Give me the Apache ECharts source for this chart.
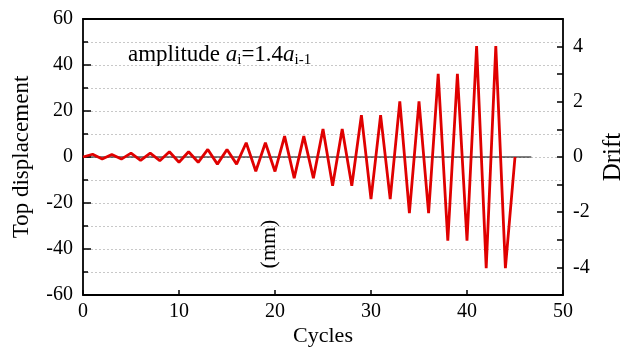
<!DOCTYPE html>
<html>
<head>
<meta charset="utf-8">
<script src="https://cdn.jsdelivr.net/npm/echarts@6/dist/echarts.min.js"></script>
<style>
  html, body { margin: 0; padding: 0; background: #fff; }
  #chart { width: 621px; height: 347px; }
</style>
</head>
<body>
<div id="chart"></div>
<script>
// cycle number and top displacement (mm)
const cycles = [0, 1, 2, 3, 4, 5, 6, 7, 8, 9, 10, 11, 12, 13, 14, 15, 16, 17, 18, 19, 20, 21, 22,
  23, 24, 25, 26, 27, 28, 29, 30, 31, 32, 33, 34, 35, 36, 37, 38, 39, 40, 41, 42, 43, 44, 45];
const displacement = [0, 1.2, -0.9, 1.1, -0.9, 1.7, -1.5, 1.7, -1.6, 2.3, -2.3, 2.3, -2.3, 3.3, -3.1,
  3.3, -3.1, 6.2, -6.2, 6.2, -6.3, 9.1, -9.2, 9.1, -9.2, 12.2, -12.5, 12.2, -12.5, 18.2, -18.3,
  18.2, -18.3, 24.2, -24.4, 24.2, -24.4, 36.2, -36.4, 36.2, -36.4, 48.2, -48.3, 48.2, -48.3, 0];
// zero reference line end points
const zeroLineX = [0, 46.7];

const font = 'Liberation Serif';
const chart = echarts.init(document.getElementById('chart'));

const axisLine = { onZero: false, lineStyle: { color: '#000', width: 1.8 } };
const dotted = { show: true, lineStyle: { color: '#c8c8c8', type: [2, 2], width: 1 } };

const option = {
  animation: false,
  textStyle: { fontFamily: font },
  grid: { left: 83, right: 58, top: 19, bottom: 52, outerBoundsMode: 'none' },
  xAxis: [
    {
      type: 'value', min: 0, max: 50, interval: 10,
      name: 'Cycles', nameLocation: 'middle', nameGap: 30, nameMoveOverlap: false,
      nameTextStyle: { fontFamily: font, fontSize: 22, color: '#000' },
      axisLine: axisLine,
      axisTick: { inside: true, length: 5, lineStyle: { color: '#000', width: 1.5 } },
      axisLabel: { fontFamily: font, fontSize: 20, color: '#000', margin: 7 },
      splitLine: { show: false }
    },
    {
      type: 'value', position: 'top', min: 0, max: 50,
      axisLine: axisLine, axisTick: { show: false }, axisLabel: { show: false },
      splitLine: { show: false }
    }
  ],
  yAxis: [
    {
      type: 'value', min: -60, max: 60, interval: 20,
      name: 'Top displacement', nameLocation: 'middle', nameGap: 50, nameRotate: 90,
      nameMoveOverlap: false,
      nameTextStyle: { fontFamily: font, fontSize: 23, color: '#000' },
      axisLine: axisLine,
      axisTick: { inside: true, length: 8, lineStyle: { color: '#000', width: 1.5 } },
      minorTick: { show: true, splitNumber: 2, length: 5, lineStyle: { color: '#000', width: 1.5 } },
      axisLabel: { fontFamily: font, fontSize: 20, color: '#000', margin: 10 },
      splitLine: dotted,
      minorSplitLine: dotted
    },
    {
      type: 'value', min: -5, max: 5, interval: 1, position: 'right',
      name: 'Drift', nameLocation: 'middle', nameGap: 38, nameRotate: 90,
      nameMoveOverlap: false,
      nameTextStyle: { fontFamily: font, fontSize: 25, color: '#000' },
      axisLine: axisLine,
      axisTick: { inside: true, length: 6, lineStyle: { color: '#000', width: 1.5 } },
      axisLabel: {
        fontFamily: font, fontSize: 20, color: '#000', margin: 10,
        formatter: v => (v % 2 === 0 ? String(v) : '')
      },
      splitLine: { show: false }
    }
  ],
  graphic: [
    {
      type: 'text', left: 128, top: 43,
      style: {
        text: '{n|amplitude }{it|a}{sub|i}{n|=1.4}{it|a}{sub|i-1}',
        rich: {
          n: { fontFamily: font, fontSize: 23, fill: '#000' },
          it: { fontFamily: font, fontSize: 23, fontStyle: 'italic', fill: '#000' },
          sub: { fontFamily: font, fontSize: 15, fill: '#000', padding: [11, 0, 0, 0] }
        }
      }
    },
    {
      type: 'text', x: 269, y: 244, rotation: Math.PI / 2,
      style: {
        text: '(mm)', fontFamily: font, fontSize: 22, fill: '#000',
        align: 'center', verticalAlign: 'middle'
      }
    }
  ],
  series: [
    {
      type: 'line',
      data: zeroLineX.map(x => [x, 0]),
      symbol: 'none',
      lineStyle: { color: '#000', width: 1.2 },
      z: 1
    },
    {
      type: 'line',
      data: cycles.map((c, i) => [c, displacement[i]]),
      symbol: 'none',
      lineStyle: { color: '#e00000', width: 2.8 },
      z: 2
    }
  ]
};

chart.setOption(option);
</script>
</body>
</html>
